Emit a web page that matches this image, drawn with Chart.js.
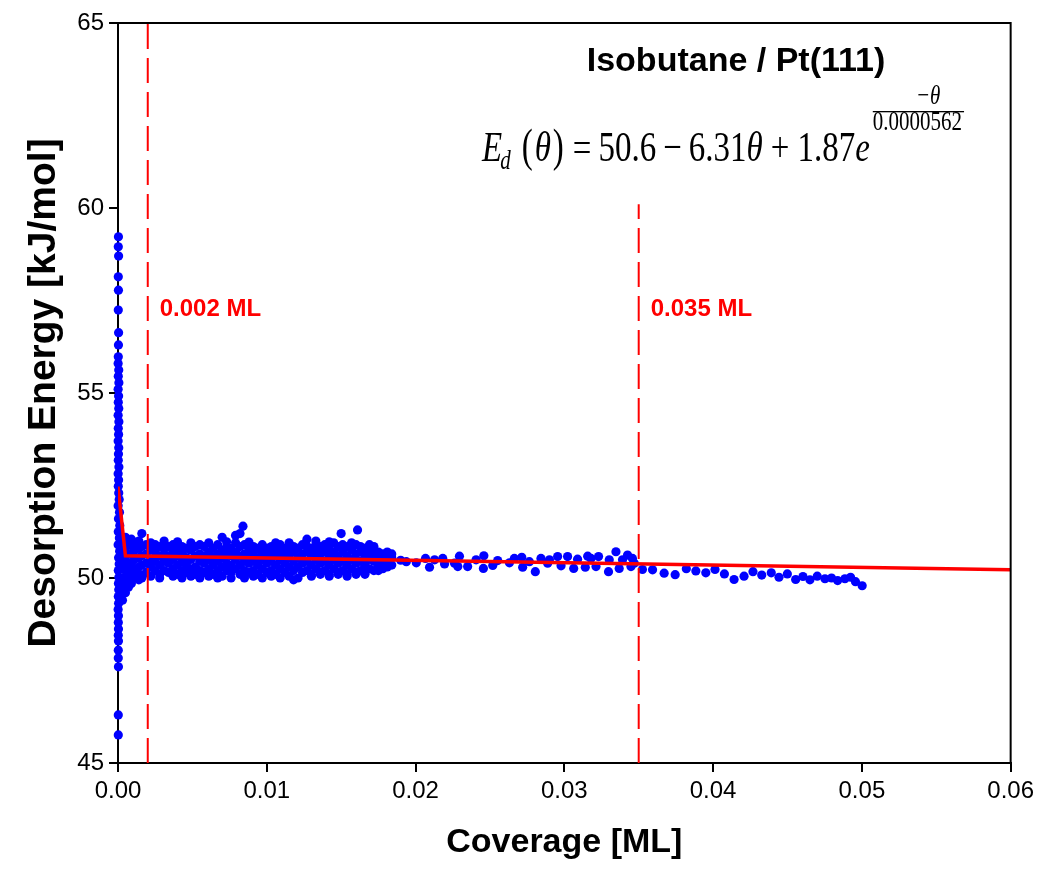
<!DOCTYPE html>
<html>
<head>
<meta charset="utf-8">
<script src="https://cdn.jsdelivr.net/npm/chart.js@4.4.1/dist/chart.umd.min.js"></script>
<style>
  html, body { margin: 0; padding: 0; background: #fff; }
  #wrap { width: 1039px; height: 875px; }
</style>
</head>
<body>
<div id="wrap"><canvas id="chart" width="1039" height="875"></canvas></div>
<script>
// ---- data ----
const xTicks = [0, 0.01, 0.02, 0.03, 0.04, 0.05, 0.06];
const yTicks = [45, 50, 55, 60, 65];

// near-zero coverage column
const spikeTheta = [
  0.00003, 0.00002, 0.00004, 0.00002, 0.00003, 0.00002, 0.00004, 0.00003, 0.00002,
  0.00001, 0.00005, 0.00002, 0.00006, 0.00001, 0.00004, 0.00002, 0.00005, 0.00001,
  0.00006, 0.00002, 0.00004, 0.00001, 0.00005, 0.00003, 0.00002, 0.00006, 0.00001,
  0.00004, 0.00002, 0.00005, 0.00008, 0.00001, 0.00010, 0.00003, 0.00012, 0.00002,
  0.00009, 0.00001, 0.00011, 0.00004, 0.00008, 0.00002, 0.00006, 0.00003, 0.00005,
  0.00002, 0.00004, 0.00001, 0.00003, 0.00002, 0.00003, 0.00002, 0.00003, 0.00002
];
const spikeEnergy = [
  59.22, 58.95, 58.70, 58.14, 57.78, 57.24, 56.63, 56.30, 55.98,
  55.80, 55.62, 55.45, 55.28, 55.10, 54.92, 54.75, 54.58, 54.40,
  54.22, 54.05, 53.88, 53.70, 53.52, 53.35, 53.18, 53.00, 52.82,
  52.65, 52.48, 52.30, 52.12, 51.95, 51.78, 51.60, 51.42, 51.25,
  51.08, 50.90, 50.72, 50.55, 50.38, 50.20, 50.02, 49.85, 49.68,
  49.50, 49.32, 49.15, 48.98, 48.80, 48.62, 48.45, 48.30, 48.05
];
const spikeLowTheta = [0.00002, 0.00003, 0.00002, 0.00002];
const spikeLowEnergy = [47.84, 47.60, 46.30, 45.76];

// dense band up to ~0.0185 ML, one column of readings per coverage value
const bandTheta = [
  0.0003, 0.0005, 0.0007, 0.0009, 0.0011, 0.0014, 0.0016, 0.0019, 0.0022, 0.0025,
  0.0028, 0.0031, 0.0034, 0.0037, 0.0040, 0.0043, 0.0046, 0.0049, 0.0052, 0.0055,
  0.0058, 0.0061, 0.0064, 0.0067, 0.0070, 0.0073, 0.0076, 0.0079, 0.0082, 0.0084,
  0.0085, 0.0088, 0.0091, 0.0094, 0.0097, 0.0100, 0.0103, 0.0106, 0.0109, 0.0112,
  0.0115, 0.0118, 0.0121, 0.0124, 0.0127, 0.0130, 0.0133, 0.0136, 0.0139, 0.0142,
  0.0145, 0.0148, 0.0150, 0.0151, 0.0154, 0.0157, 0.0160, 0.0161, 0.0163, 0.0166,
  0.0169, 0.0172, 0.0175, 0.0178, 0.0181, 0.0184
];
const bandEnergy = [
  [49.4, 49.7, 50.0, 50.3, 50.7, 51.0],
  [49.6, 49.9, 50.2, 50.5, 50.8, 51.1],
  [49.75, 50.05, 50.35, 50.65, 50.95],
  [49.85, 50.15, 50.4, 50.65, 50.9, 51.05],
  [50.0, 50.25, 50.5, 50.75, 50.95],
  [49.95, 50.1, 50.3, 50.55, 50.8, 51.0],
  [50.0, 50.35, 50.6, 50.85, 51.2],
  [50.15, 50.4, 50.65, 50.9],
  [50.05, 50.3, 50.5, 50.75, 50.95],
  [50.2, 50.45, 50.7, 50.9],
  [50.0, 50.1, 50.35, 50.6, 50.85],
  [50.2, 50.45, 50.65, 50.8, 51.0],
  [50.15, 50.4, 50.6, 50.85],
  [50.05, 50.25, 50.5, 50.7, 50.9],
  [50.1, 50.35, 50.6, 50.8, 50.98],
  [50.0, 50.2, 50.45, 50.65, 50.85],
  [50.15, 50.35, 50.55, 50.8],
  [50.05, 50.25, 50.5, 50.75, 50.95],
  [50.1, 50.3, 50.6, 50.85],
  [50.0, 50.2, 50.45, 50.65, 50.9],
  [50.15, 50.4, 50.6, 50.85],
  [50.05, 50.25, 50.5, 50.7, 50.95],
  [50.1, 50.35, 50.55, 50.8],
  [50.0, 50.2, 50.45, 50.65, 50.9],
  [50.05, 50.3, 50.55, 50.75, 51.1],
  [50.2, 50.4, 50.65, 50.85, 50.98],
  [50.0, 50.15, 50.35, 50.6, 50.8],
  [50.25, 50.5, 50.7, 50.95, 51.15],
  [50.1, 50.35, 50.6, 50.85, 51.2],
  [51.4],
  [50.0, 50.2, 50.45, 50.65, 50.9],
  [50.15, 50.4, 50.6, 50.8, 50.97],
  [50.05, 50.2, 50.45, 50.7, 50.85],
  [50.1, 50.35, 50.55, 50.8],
  [50.0, 50.25, 50.5, 50.7, 50.9],
  [50.15, 50.4, 50.6, 50.8],
  [50.05, 50.2, 50.45, 50.65, 50.85],
  [50.1, 50.35, 50.6, 50.75, 50.95],
  [50.0, 50.25, 50.5, 50.7, 50.9],
  [50.15, 50.4, 50.6, 50.8],
  [50.05, 50.3, 50.55, 50.75, 50.95],
  [49.95, 50.2, 50.45, 50.7, 50.85],
  [50.0, 50.3, 50.55, 50.8],
  [50.15, 50.4, 50.65, 50.9],
  [50.2, 50.45, 50.7, 50.85, 51.05],
  [50.05, 50.1, 50.35, 50.6, 50.8],
  [50.25, 50.5, 50.7, 50.9, 51.0],
  [50.1, 50.15, 50.4, 50.65, 50.85],
  [50.2, 50.45, 50.7, 50.9],
  [50.05, 50.1, 50.35, 50.6, 50.8, 50.98],
  [50.25, 50.5, 50.7, 50.95],
  [50.1, 50.15, 50.4, 50.6, 50.85],
  [51.2],
  [50.2, 50.45, 50.7, 50.9],
  [50.05, 50.1, 50.35, 50.6, 50.85],
  [50.25, 50.5, 50.75, 50.95],
  [50.1, 50.15, 50.4, 50.65, 50.9],
  [51.3],
  [50.2, 50.45, 50.7, 50.85],
  [50.1, 50.15, 50.35, 50.6, 50.8],
  [50.25, 50.5, 50.7, 50.9],
  [50.2, 50.45, 50.65, 50.85],
  [50.2, 50.3, 50.5, 50.7],
  [50.25, 50.45, 50.65],
  [50.3, 50.5, 50.7],
  [50.35, 50.55, 50.65]
];

// sparse points beyond the band
const tailTheta = [
  0.0190, 0.01938, 0.02005, 0.02067, 0.02094, 0.02128, 0.02183, 0.02195, 0.02262, 0.02284,
  0.02295, 0.0235, 0.02407, 0.02456, 0.02459, 0.02519, 0.02552, 0.02631, 0.02664, 0.02714,
  0.0272, 0.02765, 0.02805, 0.02843, 0.02888, 0.029, 0.02955, 0.02978, 0.03022, 0.03063,
  0.03089, 0.03141, 0.03157, 0.03179, 0.03213, 0.0323, 0.03297, 0.03302, 0.03347, 0.03369,
  0.03391, 0.03425, 0.03448, 0.03458, 0.0347, 0.03525, 0.03593, 0.03671, 0.03745, 0.0382,
  0.03884, 0.03951, 0.04013, 0.04076, 0.04141, 0.04208, 0.04268, 0.04327, 0.04391, 0.04443,
  0.04499, 0.04555, 0.04604, 0.04651, 0.047, 0.04752, 0.04796, 0.04837, 0.04886, 0.04924,
  0.04957, 0.05002
];
const tailEnergy = [
  50.48, 50.44, 50.41, 50.53, 50.29, 50.49, 50.53, 50.38, 50.40, 50.31,
  50.59, 50.31, 50.49, 50.26, 50.60, 50.34, 50.47, 50.41, 50.53, 50.56,
  50.29, 50.44, 50.17, 50.53, 50.40, 50.49, 50.58, 50.33, 50.58, 50.26,
  50.51, 50.29, 50.59, 50.53, 50.31, 50.58, 50.17, 50.49, 50.71, 50.26,
  50.49, 50.62, 50.31, 50.53, 50.40, 50.23, 50.22, 50.13, 50.09, 50.25,
  50.19, 50.14, 50.23, 50.11, 49.96, 50.05, 50.17, 50.08, 50.14, 50.02,
  50.11, 49.96, 50.04, 49.95, 50.05, 49.98, 50.00, 49.93, 49.98, 50.02,
  49.90, 49.79
];

// fitted curve as drawn (coarse polyline)
const fitTheta = [0, 0.0005, 0.06];
const fitEnergy = [52.47, 50.60, 50.22];

// reference coverages marked with dashed lines
const markTheta = [0.002, 0.035];
const markTopEnergy = [65, 60.1];
const markLabels = ['0.002 ML', '0.035 ML'];

// ---- build datasets ----
const scatterPoints = [];
spikeTheta.forEach((t, i) => scatterPoints.push({ x: t, y: spikeEnergy[i] }));
spikeLowTheta.forEach((t, i) => scatterPoints.push({ x: t, y: spikeLowEnergy[i] }));
bandTheta.forEach((t, i) => bandEnergy[i].forEach(e => scatterPoints.push({ x: t, y: e })));
tailTheta.forEach((t, i) => scatterPoints.push({ x: t, y: tailEnergy[i] }));

const fitPoints = fitTheta.map((t, i) => ({ x: t, y: fitEnergy[i] }));

const markDatasets = markTheta.map((t, i) => ({
  type: 'line',
  data: [{ x: t, y: 45 }, { x: t, y: markTopEnergy[i] }],
  borderColor: '#ff0000',
  borderWidth: 2,
  borderDash: [25, 9],
  pointRadius: 0,
  fill: false,
  order: 1
}));

// frame on top and right
const framePlugin = {
  id: 'frame',
  afterDatasetsDraw(chart) {
    const { ctx, chartArea: a } = chart;
    ctx.save();
    ctx.strokeStyle = '#000';
    ctx.lineWidth = 2;
    ctx.beginPath();
    ctx.moveTo(a.left, a.top);
    ctx.lineTo(a.right, a.top);
    ctx.lineTo(a.right, a.bottom);
    ctx.stroke();
    ctx.restore();
  }
};

function piece(ctx, text, x, y, font, sy) {
  ctx.save();
  ctx.font = font;
  const w = ctx.measureText(text).width;
  ctx.translate(x, y);
  ctx.scale(1, sy);
  ctx.fillText(text, 0, 0);
  ctx.restore();
  return w;
}

const textPlugin = {
  id: 'texts',
  afterDraw(chart) {
    const { ctx } = chart;
    const xs = chart.scales.x, ys = chart.scales.y;

    ctx.save();
    ctx.fillStyle = '#000';
    ctx.textBaseline = 'middle';
    ctx.textAlign = 'center';
    ctx.font = 'bold 34px "Liberation Sans", Arial, sans-serif';
    ctx.fillText('Isobutane / Pt(111)', 736, 62);

    // marker labels
    ctx.fillStyle = '#ff0000';
    ctx.textAlign = 'left';
    ctx.font = 'bold 24px "Liberation Sans", Arial, sans-serif';
    markTheta.forEach((t, i) => {
      ctx.fillText(markLabels[i], xs.getPixelForValue(t) + 12, ys.getPixelForValue(57.25));
    });

    // fitted equation
    ctx.fillStyle = '#000';
    ctx.textBaseline = 'alphabetic';
    const serif = '"Liberation Serif", "Times New Roman", serif';
    const main = '33px ' + serif, mainI = 'italic 33px ' + serif;
    const small = '21px ' + serif, smallI = 'italic 21px ' + serif;
    const sy = 1.28, base = 161;
    let x = 482;
    x += piece(ctx, 'E', x, base, mainI, sy);
    x += piece(ctx, 'd', x - 2, base + 8, smallI, sy) + 9;
    x += piece(ctx, '(', x, base, main, sy * 1.12) + 2;
    x += piece(ctx, 'θ', x, base, mainI, sy) + 2;
    x += piece(ctx, ')', x, base, main, sy * 1.12) + 9;
    x += piece(ctx, '=', x, base, main, sy) + 7;
    x += piece(ctx, '50.6', x, base, main, sy) + 7;
    x += piece(ctx, '\u2212', x, base, main, sy) + 7;
    x += piece(ctx, '6.31', x, base, main, sy);
    x += piece(ctx, 'θ', x, base, mainI, sy) + 8;
    x += piece(ctx, '+', x, base, main, sy) + 8;
    x += piece(ctx, '1.87', x, base, main, sy);
    x += piece(ctx, 'e', x, base, mainI, sy) + 3;
    ctx.font = small;
    const den = '0.0000562';
    const dw = ctx.measureText(den).width;
    ctx.font = smallI;
    const nw = ctx.measureText('\u2212θ').width;
    piece(ctx, '\u2212θ', x + dw * 0.62 - nw / 2, 104, smallI, 1.3);
    ctx.fillRect(x, 111, dw + 2, 1.3);
    piece(ctx, den, x, 130, small, 1.3);
    ctx.restore();
  }
};

new Chart(document.getElementById('chart'), {
  type: 'scatter',
  data: {
    datasets: [
      {
        type: 'line',
        data: fitPoints,
        borderColor: '#ff0000',
        borderWidth: 3.5,
        pointRadius: 0,
        fill: false,
        tension: 0,
        order: 0
      },
      ...markDatasets,
      {
        data: scatterPoints,
        backgroundColor: '#0000ff',
        borderWidth: 0,
        pointRadius: 4.6,
        pointHoverRadius: 4.6,
        clip: false,
        order: 2
      }
    ]
  },
  options: {
    responsive: false,
    animation: false,
    devicePixelRatio: 1,
    layout: { padding: { top: 23, right: 27, left: 0, bottom: 0 } },
    plugins: { legend: { display: false }, tooltip: { enabled: false } },
    scales: {
      x: {
        type: 'linear',
        min: 0,
        max: 0.06,
        afterFit(scale) { scale.height = 112; },
        afterBuildTicks(scale) { scale.ticks = xTicks.map(v => ({ value: v })); },
        ticks: {
          color: '#000',
          padding: 5,
          maxRotation: 0,
          font: { family: '"Liberation Sans", Arial, sans-serif', size: 24 },
          callback: v => v.toFixed(2)
        },
        grid: { drawOnChartArea: false, drawTicks: true, tickLength: 9, color: '#000', lineWidth: 2 },
        border: { display: true, color: '#000', width: 2 },
        title: {
          display: true,
          text: 'Coverage [ML]',
          color: '#000',
          font: { family: '"Liberation Sans", Arial, sans-serif', size: 34, weight: 'bold' },
          padding: { top: 0, bottom: 12 }
        }
      },
      y: {
        type: 'linear',
        min: 45,
        max: 65,
        afterFit(scale) { scale.width = 118; },
        afterBuildTicks(scale) { scale.ticks = yTicks.map(v => ({ value: v })); },
        ticks: {
          color: '#000',
          padding: 5,
          font: { family: '"Liberation Sans", Arial, sans-serif', size: 24 }
        },
        grid: { drawOnChartArea: false, drawTicks: true, tickLength: 9, color: '#000', lineWidth: 2 },
        border: { display: true, color: '#000', width: 2 },
        title: {
          display: true,
          text: 'Desorption Energy [kJ/mol]',
          color: '#000',
          font: { family: '"Liberation Sans", Arial, sans-serif', size: 39, weight: 'bold' },
          padding: { top: 21, bottom: 0 }
        }
      }
    }
  },
  plugins: [framePlugin, textPlugin]
});
</script>
</body>
</html>
